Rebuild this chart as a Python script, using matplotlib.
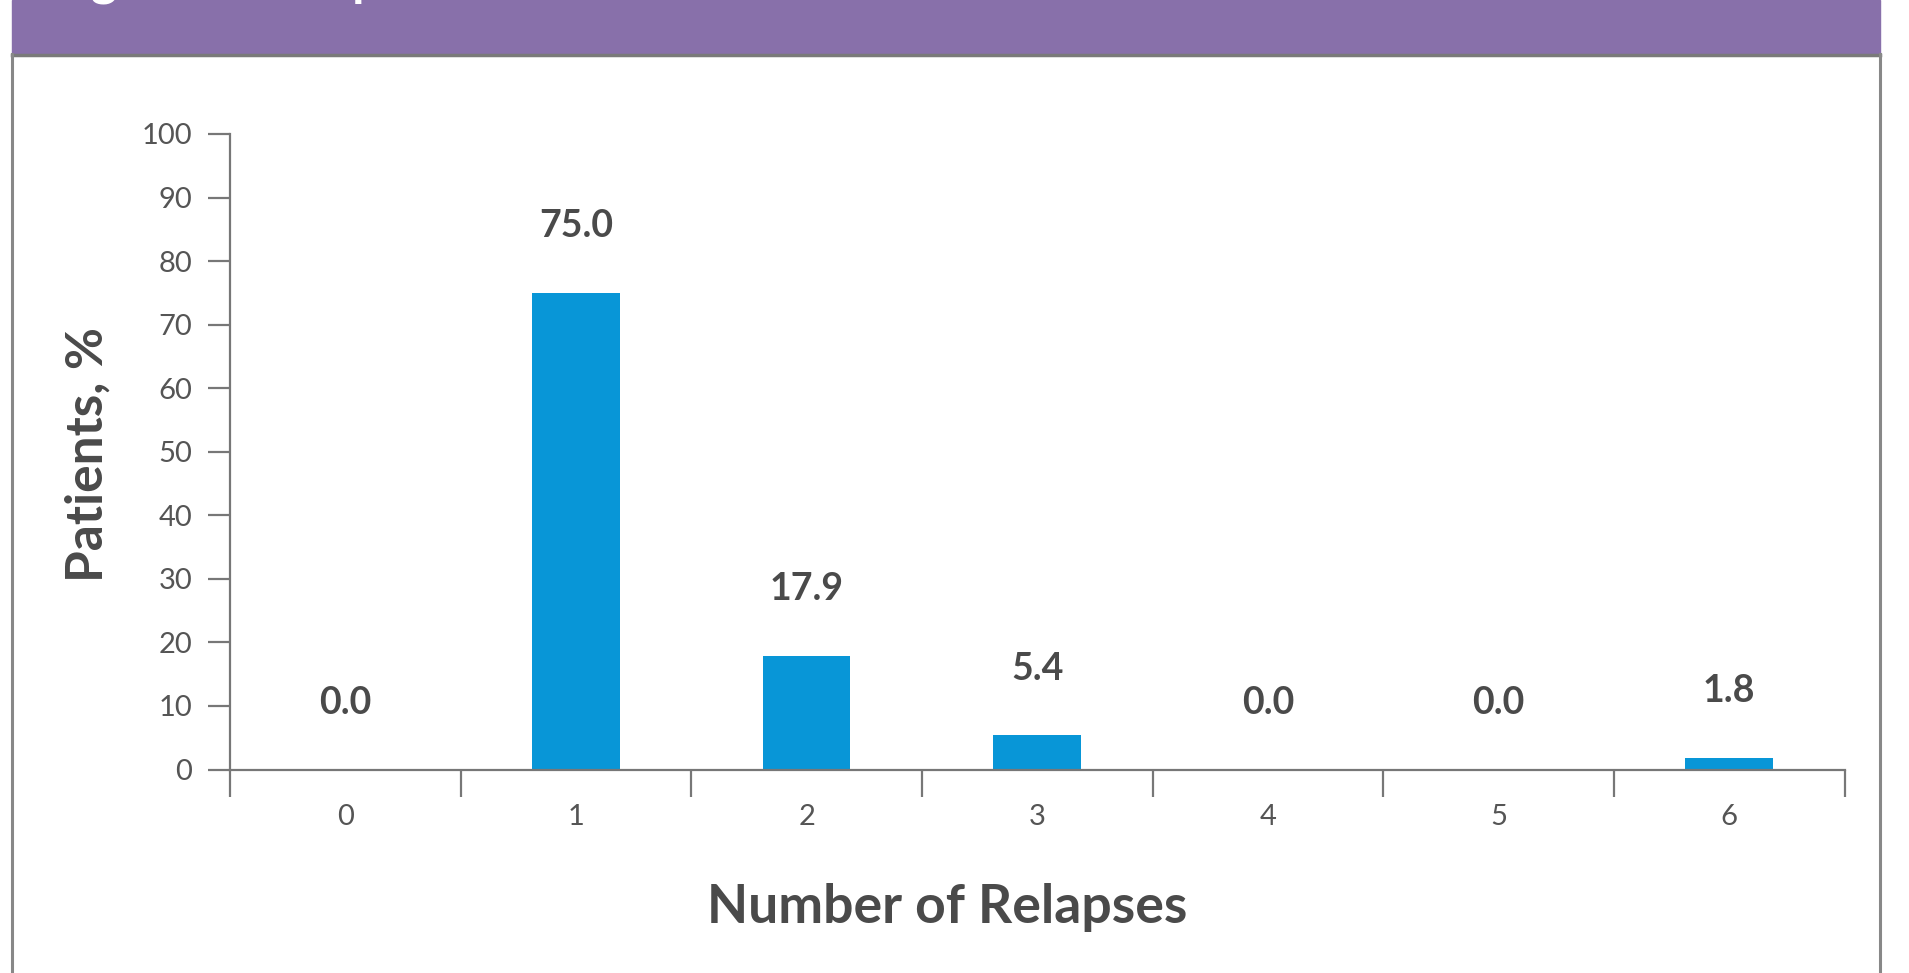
import matplotlib
matplotlib.use('Agg')
import matplotlib.pyplot as plt
from matplotlib.patches import Rectangle
from matplotlib.lines import Line2D

plt.rcParams['font.family'] = ['Lato', 'DejaVu Sans']

relapses = [0, 1, 2, 3, 4, 5, 6]
patients_pct = [0.0, 75.0, 17.9, 5.4, 0.0, 0.0, 1.8]
y_ticks = [0, 10, 20, 30, 40, 50, 60, 70, 80, 90, 100]
title = 'Figure 2. Relapses'

BAR = '#0896d7'
AXIS = '#777777'
TICK_TXT = '#555555'
LABEL_TXT = '#4a4a4a'
PURPLE = '#8870aa'

W, H = 1909, 973
fig = plt.figure(figsize=(W / 100, H / 100), dpi=100)

# frame around the panel + purple header strip
fig.add_artist(Rectangle((12 / W, 1 - 54 / H), (1880 - 12) / W, 54 / H,
                         transform=fig.transFigure, color=PURPLE, zorder=0))
fig.add_artist(Line2D([12 / W, 1880 / W], [1 - 55 / H] * 2, transform=fig.transFigure,
                      color='#7a7a7a', lw=2.5))
for xx in (12, 1880):
    fig.add_artist(Line2D([xx / W] * 2, [0, 1 - 54 / H], transform=fig.transFigure,
                          color='#888888', lw=2.2))
fig.text(50 / W, 1 + 4 / H, title, color='white', fontsize=36, fontweight='bold',
         ha='left', va='baseline')

ax = fig.add_axes([230 / W, 1 - 769.5 / H, (1844.5 - 230) / W, (769.5 - 134) / H])
ax.bar(relapses, patients_pct, width=0.38, color=BAR, zorder=2)

for x, v in zip(relapses, patients_pct):
    ax.annotate(f'{v:.1f}', (x, v), textcoords='offset points', xytext=(0, 48),
                ha='center', va='center', fontsize=27, fontweight='bold', color=LABEL_TXT)

ax.set_xlim(-0.5, 6.5)
ax.set_ylim(0, 100)
ax.set_yticks(y_ticks)
ax.set_yticklabels([str(t) for t in y_ticks])
ax.set_xticks([i - 0.5 for i in range(8)])
ax.set_xticklabels([])
ax.set_xticks(relapses, minor=True)
ax.set_xticklabels([str(r) for r in relapses], minor=True)

ax.tick_params(axis='y', length=16, width=1.6, color=AXIS, pad=11,
               labelsize=21, labelcolor=TICK_TXT)
ax.tick_params(axis='x', which='major', length=19.5, width=1.6, color=AXIS)
ax.tick_params(axis='x', which='minor', length=0, pad=25,
               labelsize=21, labelcolor=TICK_TXT)

for side in ('top', 'right'):
    ax.spines[side].set_visible(False)
for side in ('left', 'bottom'):
    ax.spines[side].set_color(AXIS)
    ax.spines[side].set_linewidth(1.6)

fig.text(88 / W, 1 - 455 / H, 'Patients, %', rotation=90, ha='center', va='center',
         fontsize=37, fontweight='bold', color=LABEL_TXT)
fig.text(947 / W, 1 - 907 / H, 'Number of Relapses', ha='center', va='center',
         fontsize=38.5, fontweight='bold', color=LABEL_TXT)

fig.savefig('out.png', dpi=100)
